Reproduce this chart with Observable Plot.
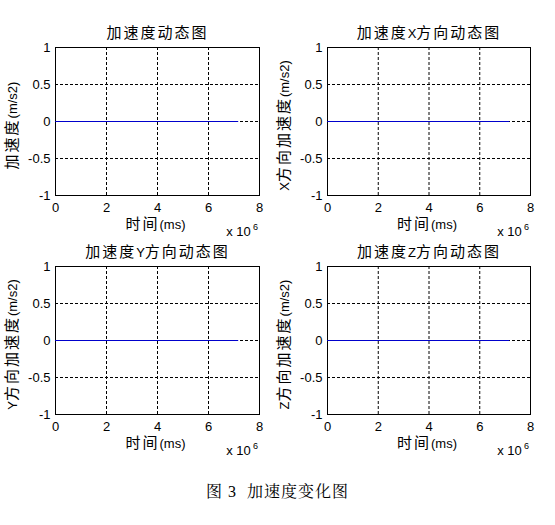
<!DOCTYPE html>
<html>
<head>
<meta charset="utf-8">
<script src="https://cdn.jsdelivr.net/npm/d3@7"></script>
<script src="https://cdn.jsdelivr.net/npm/@observablehq/plot@0.6"></script>
<style>
  html, body { margin: 0; padding: 0; background: white; }
  #root { position: relative; width: 555px; height: 525px; background: white; overflow: hidden; }
  .panel { position: absolute; }
  #caption { position: absolute; left: 0; width: 555px; top: 482px; line-height: 20px; text-align: center;
    font-family: "Liberation Serif", "Noto Serif CJK SC", "Noto Sans CJK SC", serif; font-size: 16px;
    letter-spacing: 1px; white-space: pre; color: black; }
</style>
</head>
<body>
<div id="root"><div id="caption"></div></div>
<script>
// ---- data ----
const timeMs = [0, 7150000];          // time (ms)
const accTotal = [0, 0];              // 加速度
const accX = [0, 0];                  // X 方向
const accY = [0, 0];                  // Y 方向
const accZ = [0, 0];                  // Z 方向
const panelTitles = ["加速度动态图", "加速度X方向动态图", "加速度Y方向动态图", "加速度Z方向动态图"];
const yLabels = ["加速度(m/s2)", "X方向加速度(m/s2)", "Y方向加速度(m/s2)", "Z方向加速度(m/s2)"];
const xLabel = "时间(ms)";
const xTicks = [0, 2000000, 4000000, 6000000, 8000000];
const yTicks = [-1, -0.5, 0, 0.5, 1];
const captionText = "图 3  加速度变化图";

const LATIN = "'Liberation Sans', Arial, sans-serif";
const CJK = "'Noto Sans CJK SC', sans-serif";
const CJK_RE = /[\u3400-\u9fff]/;

function mixText(svg) {
  d3.select(svg).selectAll("text").each(function () {
    const s = this.textContent;
    if (!CJK_RE.test(s)) return;
    const sel = d3.select(this);
    sel.text(null);
    for (const m of s.matchAll(/[\u3400-\u9fff]+|[^\u3400-\u9fff]+/g)) {
      const cjk = CJK_RE.test(m[0]);
      sel.append("tspan").text(m[0])
        .style("font-family", cjk ? CJK : LATIN)
        .style("font-size", cjk ? "15px" : "13px")
        .style("letter-spacing", cjk ? "2px" : "0px");
    }
  });
}

function panel(title, ylabel, acc, left, top) {
  const data = timeMs.map((t, i) => ({t, a: acc[i]}));
  const width = left === 0 ? 277 : 276;
  const chart = Plot.plot({
    width, height: 250,
    marginLeft: 55, marginRight: 18, marginTop: 47, marginBottom: 55,
    style: {background: "transparent", fontFamily: LATIN, fontSize: "13px", color: "black", overflow: "visible"},
    x: {domain: [0, 8000000]},
    y: {domain: [-1, 1]},
    marks: [
      Plot.gridX({ticks: xTicks, stroke: "black", strokeOpacity: 1, strokeDasharray: "3,2"}),
      Plot.gridY({ticks: yTicks, stroke: "black", strokeOpacity: 1, strokeDasharray: "3,2"}),
      Plot.frame({stroke: "black", strokeWidth: 1}),
      Plot.axisX({ticks: xTicks, tickSize: 0, tickPadding: 7, tickFormat: d => String(d / 1e6), label: null}),
      Plot.axisY({ticks: yTicks, tickSize: 0, tickPadding: 5, tickFormat: d => String(d), label: null}),
      Plot.text([title], {text: d => d, frameAnchor: "top", textAnchor: "middle", dy: -19}),
      Plot.text([ylabel], {text: d => d, frameAnchor: "left", textAnchor: "middle", dx: -43, dy: 4, rotate: -90}),
      Plot.text([xLabel], {text: d => d, frameAnchor: "bottom", textAnchor: "middle", dx: -2, dy: 33}),
      Plot.text(["x 10"], {text: d => d, frameAnchor: "bottom-right", textAnchor: "middle", dx: -21, dy: 40}),
      Plot.text(["6"], {text: d => d, frameAnchor: "bottom-right", textAnchor: "middle", dx: -4, dy: 34, fontSize: 9}),
      Plot.line(data, {x: "t", y: "a", stroke: "#0000cc", strokeWidth: 1})
    ]
  });
  mixText(chart);
  chart.classList.add("panel");
  chart.style.left = left + "px";
  chart.style.top = top + "px";
  document.getElementById("root").appendChild(chart);
}

panel(panelTitles[0], yLabels[0], accTotal, 0, 0);
panel(panelTitles[1], yLabels[1], accX, 272, 0);
panel(panelTitles[2], yLabels[2], accY, 0, 219);
panel(panelTitles[3], yLabels[3], accZ, 272, 219);
document.getElementById("caption").textContent = captionText;
</script>
</body>
</html>
